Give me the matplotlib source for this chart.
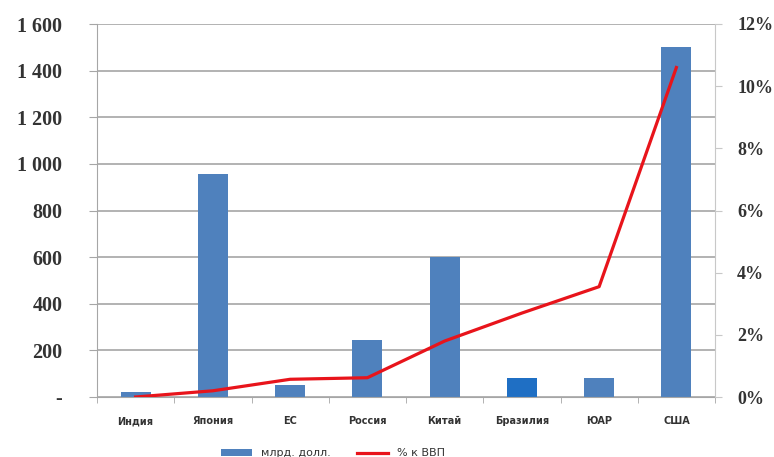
import matplotlib
matplotlib.use("Agg")
import matplotlib.pyplot as plt
import numpy as np
from matplotlib.ticker import FuncFormatter
from matplotlib.font_manager import FontProperties

countries = ['Индия', 'Япония', 'ЕС', 'Россия', 'Китай', 'Бразилия', 'ЮАР', 'США']
bln_usd = [20, 955, 50, 245, 600, 80, 80, 1500]
pct_gdp = [0.0, 0.2, 0.57, 0.62, 1.8, 2.7, 3.55, 10.6]
bar_colors = ['#4f81bd'] * 5 + ['#1f6fc4'] + ['#4f81bd'] * 2

fig = plt.figure(figsize=(7.74, 4.57), dpi=100)
ax = fig.add_axes([97 / 774, 1 - 397 / 457, (715 - 97) / 774, (397 - 24) / 457])
ax2 = ax.twinx()

x = np.arange(len(countries))
bars = ax.bar(x, bln_usd, width=0.39, color=bar_colors, zorder=2)
line, = ax2.plot(x, pct_gdp, color='#e8141b', lw=2.3, zorder=3)

ax.set_xlim(-0.5, len(countries) - 0.5)
ax.set_ylim(0, 1600)
ax.set_yticks(np.arange(0, 1601, 200))
ax.yaxis.set_major_formatter(FuncFormatter(
    lambda v, p: '-' if v == 0 else f'{int(v):,}'.replace(',', ' ')))
ax.grid(axis='y', color='#a6a6a6', lw=1.2, zorder=0)
ax.set_axisbelow(True)

ax2.set_ylim(0, 12)
ax2.set_yticks(np.arange(0, 13, 2))
ax2.yaxis.set_major_formatter(FuncFormatter(lambda v, p: f'{int(v)}%'))

for a in (ax, ax2):
    for s in a.spines.values():
        s.set_visible(False)
ax.spines['left'].set_visible(True)
ax.spines['left'].set_color('#a6a6a6')
ax.spines['bottom'].set_visible(True)
ax.spines['bottom'].set_color('#a6a6a6')
ax2.spines['right'].set_visible(True)
ax2.spines['right'].set_color('#c8c8c8')

ax.tick_params(axis='y', length=6, color='#a6a6a6', pad=19)
for t in ax.get_yticklabels():
    t.set_fontproperties(FontProperties(family='Liberation Serif', weight='bold', size=14.5))
    t.set_color('#333333')
ax2.tick_params(axis='y', length=5, color='#c8c8c8', pad=11)
for t in ax2.get_yticklabels():
    t.set_fontproperties(FontProperties(family='Liberation Serif', weight='bold', size=13))
    t.set_color('#333333')

# category labels between boundary ticks
ax.set_xticks(x)
ax.set_xticklabels(countries, fontsize=7, fontweight='bold', color='#333333',
                   family='DejaVu Sans')
ax.tick_params(axis='x', length=0, pad=14)
ax.set_xticks(np.arange(-0.5, len(countries), 1), minor=True)
ax.tick_params(axis='x', which='minor', length=4, color='#a6a6a6')

fig.legend(handles=[bars, line], labels=['млрд. долл.', '% к ВВП'],
           loc='lower center', bbox_to_anchor=(0.43, -0.025), ncol=2, frameon=False,
           fontsize=8, handlelength=2.8, columnspacing=2.4, handleheight=0.6,
           labelcolor='#333333')

fig.savefig('out.png', dpi=100)
